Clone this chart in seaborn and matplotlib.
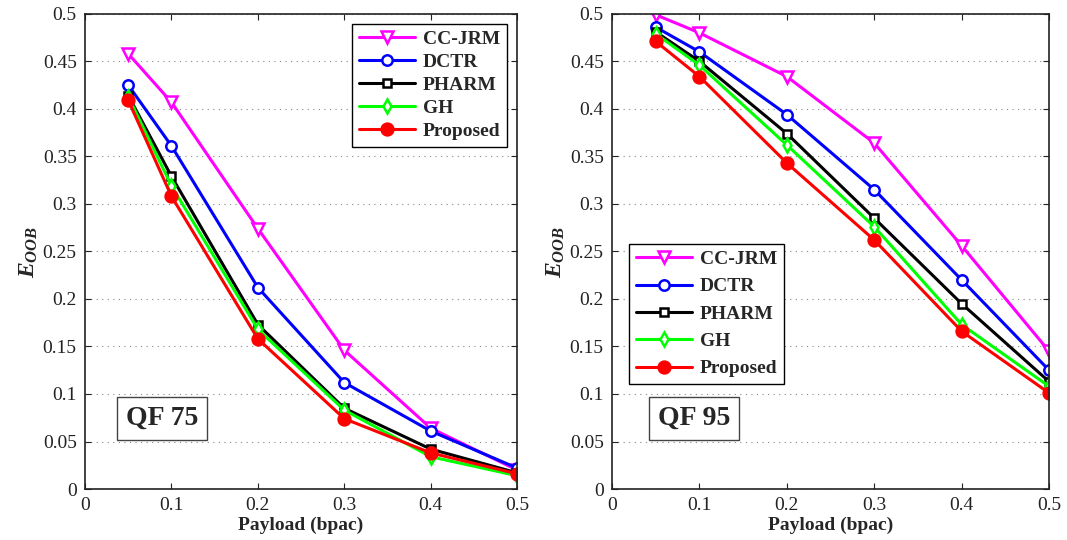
import numpy as np
import pandas as pd
import seaborn as sns
import matplotlib
matplotlib.use("Agg")
import matplotlib.pyplot as plt

# Data
payload = [0.05, 0.1, 0.2, 0.3, 0.4, 0.5]
methods = ["CC-JRM", "DCTR", "PHARM", "GH", "Proposed"]

qf75_ccjrm = [0.458, 0.407, 0.274, 0.146, 0.064, 0.020]
qf75_dctr = [0.425, 0.361, 0.212, 0.112, 0.061, 0.022]
qf75_pharm = [0.414, 0.329, 0.173, 0.085, 0.042, 0.017]
qf75_gh = [0.413, 0.319, 0.168, 0.083, 0.034, 0.014]
qf75_proposed = [0.409, 0.308, 0.158, 0.074, 0.038, 0.016]

qf95_ccjrm = [0.499, 0.480, 0.434, 0.364, 0.256, 0.145]
qf95_dctr = [0.486, 0.460, 0.394, 0.315, 0.220, 0.125]
qf95_pharm = [0.481, 0.450, 0.374, 0.285, 0.195, 0.113]
qf95_gh = [0.479, 0.446, 0.362, 0.276, 0.173, 0.108]
qf95_proposed = [0.471, 0.434, 0.343, 0.262, 0.166, 0.101]

colors = {"CC-JRM": "#ff00ff", "DCTR": "#0000ff", "PHARM": "#000000",
          "GH": "#00ff00", "Proposed": "#ff0000"}
markers = {"CC-JRM": "v", "DCTR": "o", "PHARM": "s", "GH": "d", "Proposed": "o"}
msizes = {"CC-JRM": 8, "DCTR": 7.5, "PHARM": 6, "GH": 7, "Proposed": 8.5}


def make_df(series):
    rows = []
    for name, vals in zip(methods, series):
        for x, y in zip(payload, vals):
            rows.append({"payload": x, "err": y, "method": name})
    return pd.DataFrame(rows)


df75 = make_df([qf75_ccjrm, qf75_dctr, qf75_pharm, qf75_gh, qf75_proposed])
df95 = make_df([qf95_ccjrm, qf95_dctr, qf95_pharm, qf95_gh, qf95_proposed])

sns.set_style("ticks")
plt.rcParams["font.family"] = ["Liberation Serif", "DejaVu Serif"]
plt.rcParams["mathtext.fontset"] = "custom"
plt.rcParams["mathtext.it"] = "Liberation Serif:bold:italic"
plt.rcParams["mathtext.rm"] = "Liberation Serif:bold"

fig = plt.figure(figsize=(10.67, 5.40), dpi=100)
ax1 = fig.add_axes([0.0797, 0.0944, 0.405, 0.880])
ax2 = fig.add_axes([0.5736, 0.0944, 0.4096, 0.880])


def draw(ax, df, qf_text, legend_loc, legend_anchor, spacing, box_x):
    for name in methods:
        sub = df[df["method"] == name]
        fill = colors[name] if name == "Proposed" else "white"
        sns.lineplot(data=sub, x="payload", y="err", ax=ax, color=colors[name],
                     marker=markers[name], markersize=msizes[name],
                     markerfacecolor=fill, markeredgecolor=colors[name],
                     markeredgewidth=1.8, linewidth=2.2, label=name)
    ax.set_xlim(0, 0.5)
    ax.set_ylim(0, 0.5)
    ax.set_xticks([0, 0.1, 0.2, 0.3, 0.4, 0.5])
    ax.set_xticklabels(["0", "0.1", "0.2", "0.3", "0.4", "0.5"])
    ax.set_yticks(np.arange(0, 0.501, 0.05))
    ax.set_yticklabels(["0", "0.05", "0.1", "0.15", "0.2", "0.25", "0.3",
                        "0.35", "0.4", "0.45", "0.5"])
    ax.tick_params(direction="in", top=True, right=True, labelsize=14,
                   length=4, width=0.8, colors="#222222", pad=6)
    ax.yaxis.grid(True, linestyle=(0, (1, 4)), color="#888888", linewidth=0.8)
    for s in ax.spines.values():
        s.set_visible(True)
        s.set_linewidth(1.2)
        s.set_color("#222222")
    ax.set_xlabel("Payload (bpac)", fontsize=14, fontweight="bold", labelpad=2)
    ax.set_ylabel("$E_{OOB}$", fontsize=17, labelpad=2)
    leg = ax.legend(loc=legend_loc, bbox_to_anchor=legend_anchor,
                    fancybox=False, edgecolor="black",
                    framealpha=1, prop={"weight": "bold", "size": 14},
                    handlelength=2.9, borderpad=0.35, labelspacing=spacing,
                    handletextpad=0.4)
    leg.get_frame().set_linewidth(1.0)
    ax.text(box_x, 0.0742, qf_text, transform=ax.transData, fontsize=20,
            fontweight="bold", va="center", ha="center",
            bbox=dict(boxstyle="square,pad=0.32", fc="white", ec="#444444", lw=1.0))


draw(ax1, df75, "QF 75", "upper right", None, 0.28, 0.089)
draw(ax2, df95, "QF 95", "upper left", (0.016, 0.537), 0.5, 0.0938)

fig.savefig("out.png", dpi=100)
